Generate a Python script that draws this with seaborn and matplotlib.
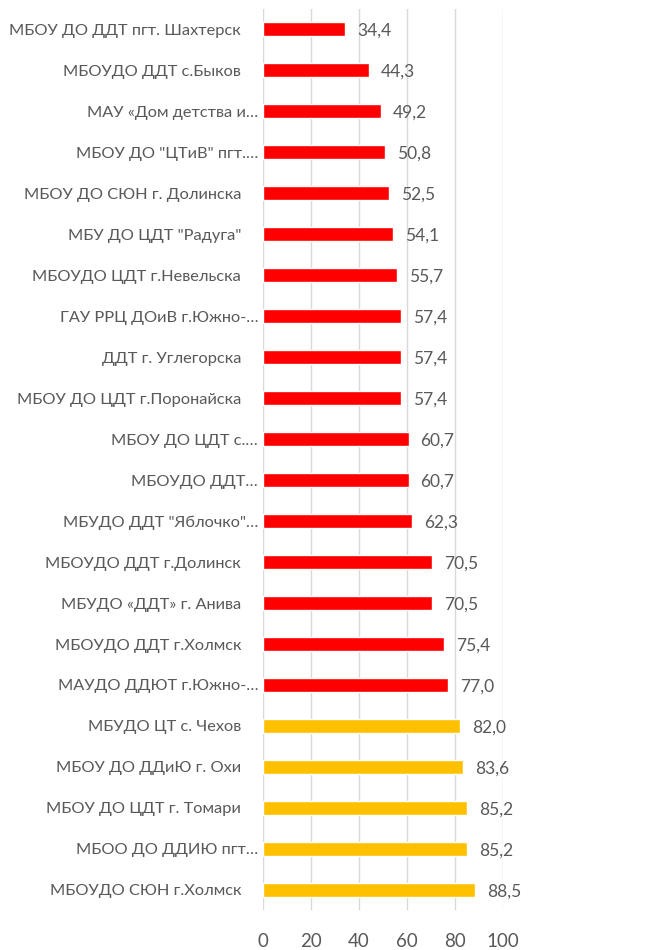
import matplotlib
matplotlib.use('Agg')
import matplotlib.pyplot as plt
import matplotlib.transforms as mtransforms
import seaborn as sns
import pandas as pd

# data, top to bottom as in the chart
institutions = [
    'МБОУ ДО ДДТ пгт. Шахтерск',
    'МБОУДО ДДТ с.Быков',
    'МАУ «Дом детства и…',
    'МБОУ ДО "ЦТиВ" пгт.…',
    'МБОУ ДО СЮН г. Долинска',
    'МБУ ДО ЦДТ "Радуга"',
    'МБОУДО ЦДТ г.Невельска',
    'ГАУ РРЦ ДОиВ г.Южно-…',
    'ДДТ г. Углегорска',
    'МБОУ ДО ЦДТ г.Поронайска',
    'МБОУ ДО ЦДТ с.…',
    'МБОУДО ДДТ…',
    'МБУДО ДДТ "Яблочко"…',
    'МБОУДО ДДТ г.Долинск',
    'МБУДО «ДДТ» г. Анива',
    'МБОУДО ДДТ г.Холмск',
    'МАУДО ДДЮТ г.Южно-…',
    'МБУДО ЦТ с. Чехов',
    'МБОУ ДО ДДиЮ г. Охи',
    'МБОУ ДО ЦДТ г. Томари',
    'МБОО ДО ДДИЮ пгт…',
    'МБОУДО СЮН г.Холмск',
]
scores = [34.4, 44.3, 49.2, 50.8, 52.5, 54.1, 55.7, 57.4, 57.4, 57.4, 60.7,
          60.7, 62.3, 70.5, 70.5, 75.4, 77.0, 82.0, 83.6, 85.2, 85.2, 88.5]
level = ['low'] * 17 + ['high'] * 5

TEXT = '#595959'
palette = {'low': '#FF0000', 'high': '#FFC000'}

df = pd.DataFrame({'name': institutions, 'score': scores, 'level': level})

sns.set_style('white')
plt.rcParams['font.family'] = ['Lato', 'DejaVu Sans']

fig = plt.figure(figsize=(6.59, 9.5), dpi=100)
ax = fig.add_axes([0.399, 0.0416, 0.364, 0.9494])

sns.barplot(data=df, y='name', x='score', hue='level', palette=palette,
            orient='h', dodge=False, width=0.34, saturation=1, legend=False, ax=ax)

for i, v in enumerate(scores):
    ax.annotate(f'{v:.1f}'.replace('.', ','), (v, i), xytext=(12, -2),
                textcoords='offset pixels', va='center', ha='left',
                fontsize=12.5, color=TEXT)

ax.set_xlim(0, 100)
ax.set_xticks(range(0, 101, 20))
ax.set_ylim(len(scores) - 0.5, -0.5)
ax.grid(axis='x', color='#D9D9D9', lw=1)
ax.set_axisbelow(True)
for s in ax.spines.values():
    s.set_visible(False)
ax.set_xlabel('')
ax.set_ylabel('')
ax.tick_params(axis='y', length=0, pad=3.5, labelsize=11.8, labelcolor=TEXT)
ax.tick_params(axis='x', length=0, pad=16, labelsize=13.5, labelcolor=TEXT)

# full names sit a bit further from the axis than the cut ones (as in Excel)
shift = mtransforms.ScaledTranslation(-17 / 100, 0, fig.dpi_scale_trans)
for lab in ax.get_yticklabels():
    if not lab.get_text().endswith('…'):
        lab.set_transform(lab.get_transform() + shift)

fig.savefig('out.png', dpi=100)
